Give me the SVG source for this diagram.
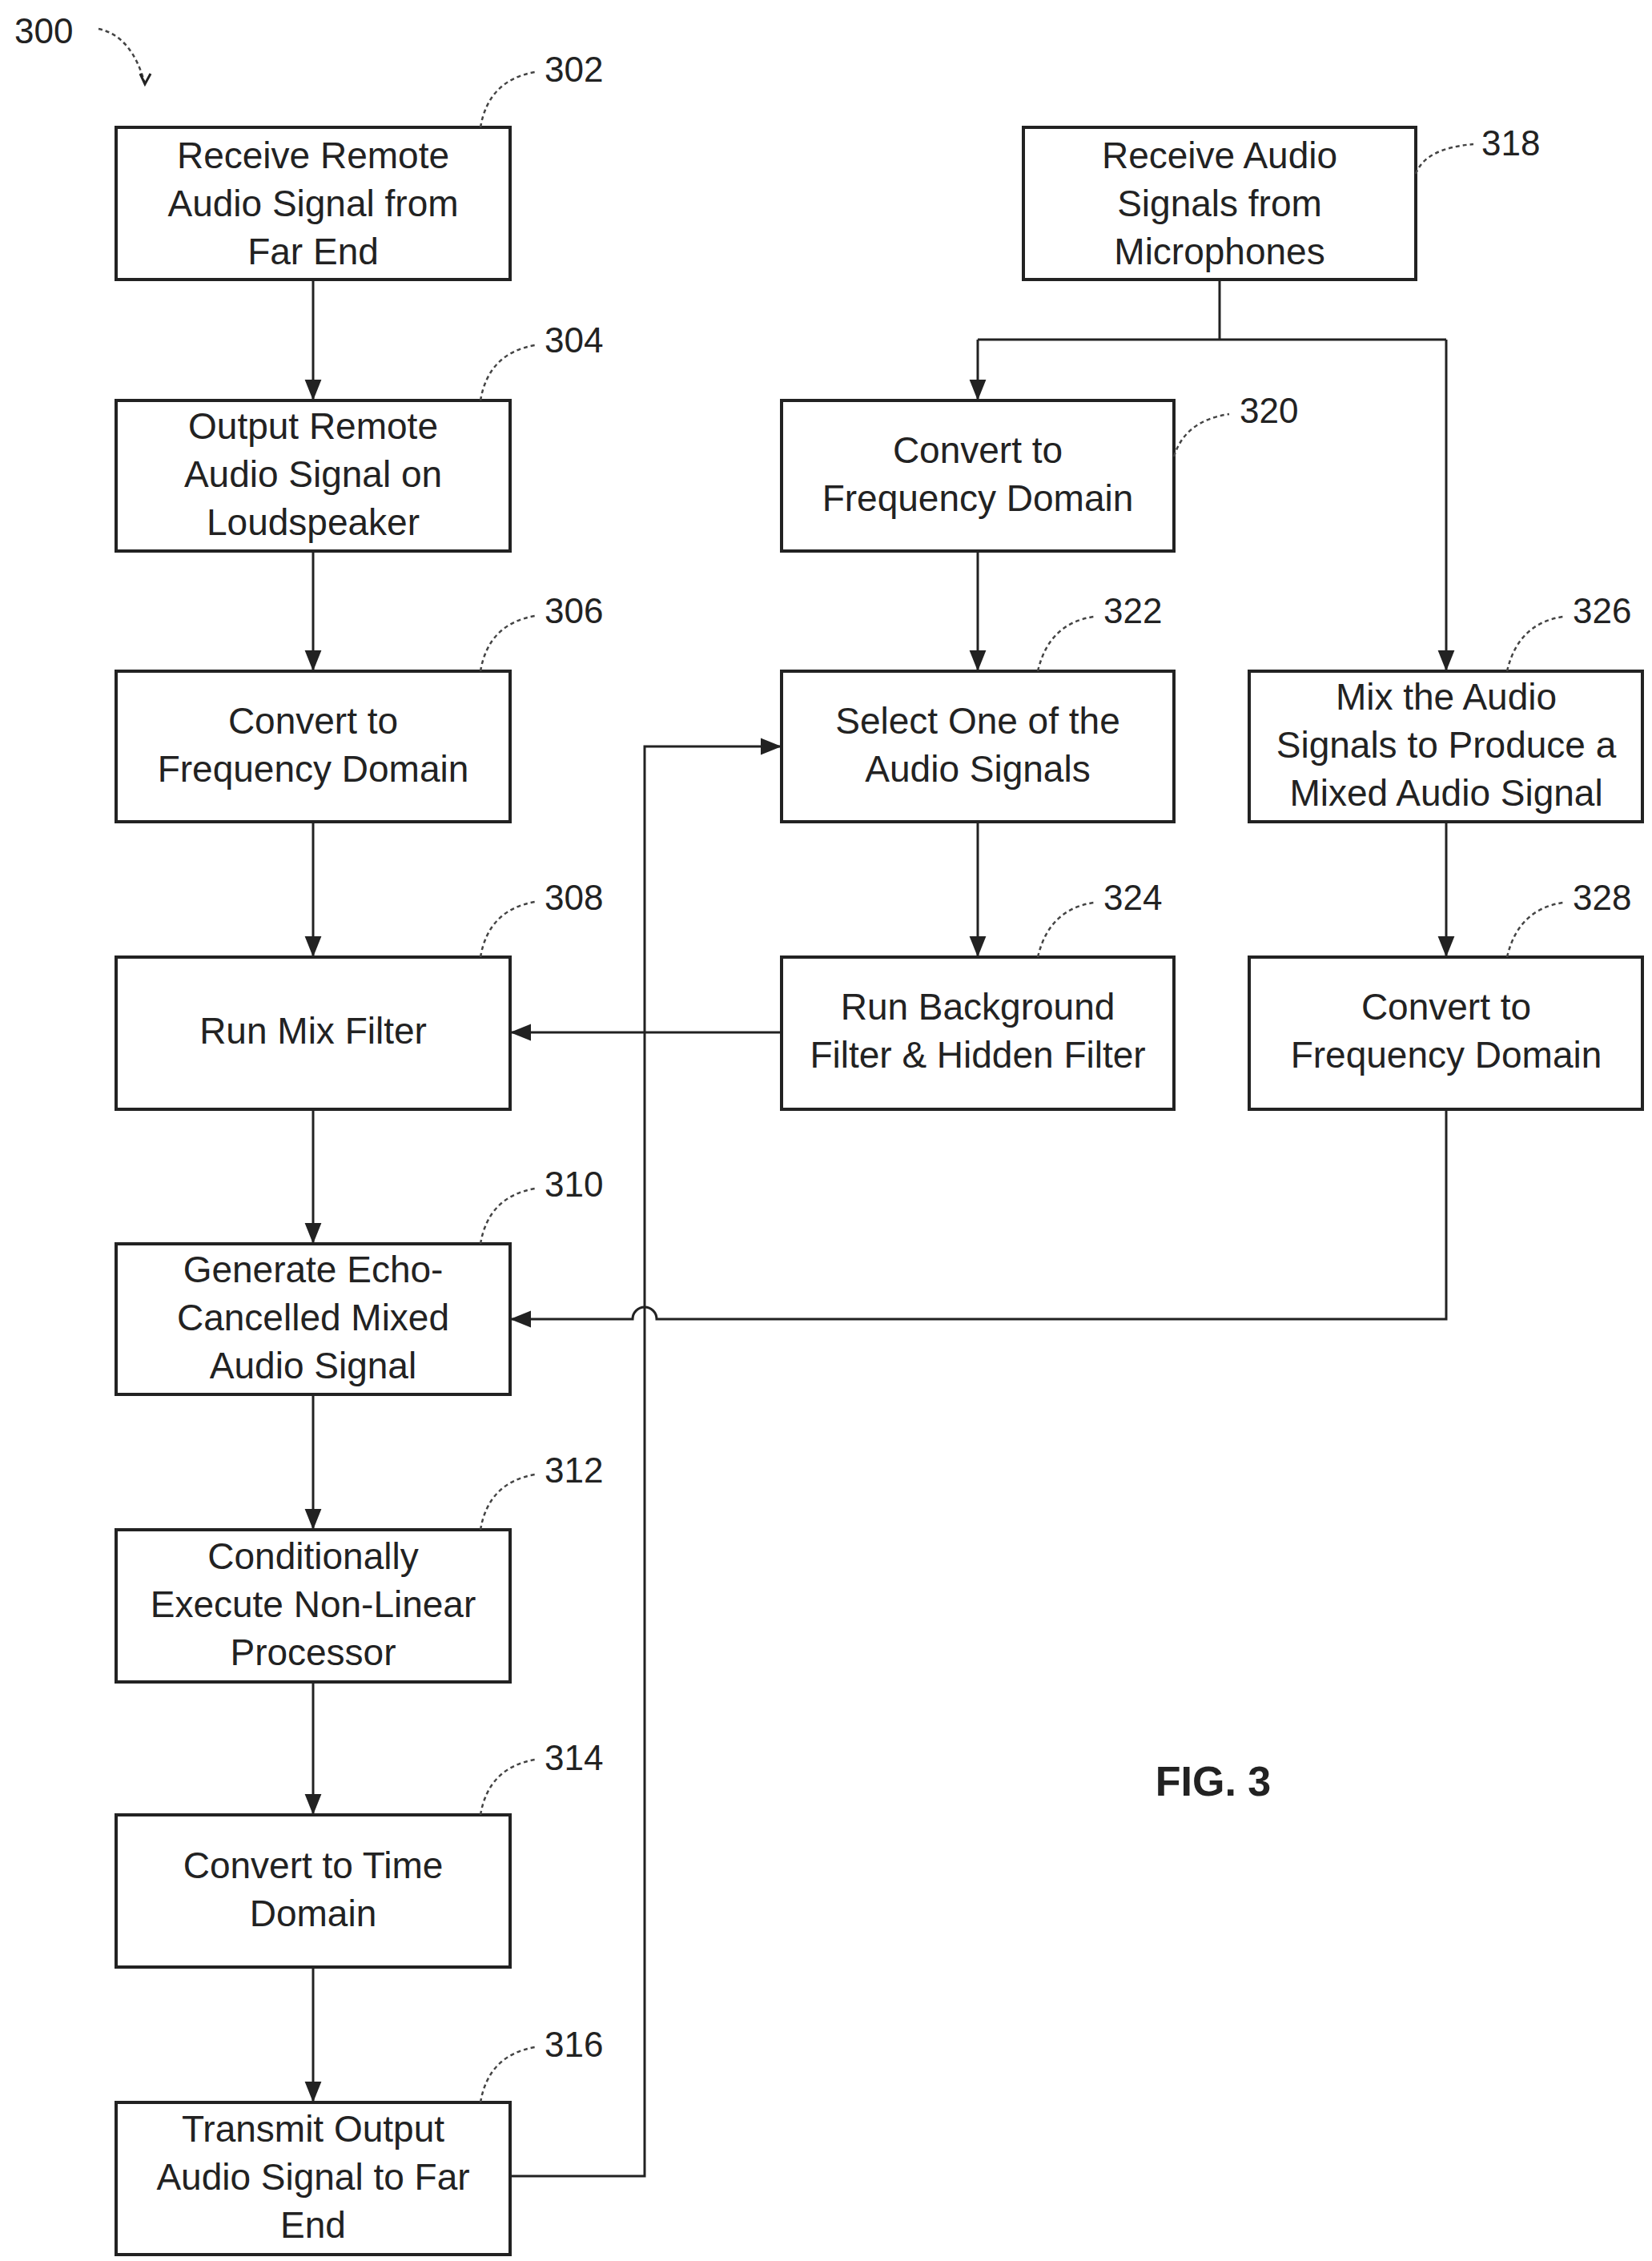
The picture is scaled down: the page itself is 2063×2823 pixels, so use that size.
<svg xmlns="http://www.w3.org/2000/svg" width="2063" height="2823" viewBox="0 0 2063 2823">
<style>
.b{fill:#fff;stroke:#222;stroke-width:4}
.t{font-family:"Liberation Sans",Arial,sans-serif;font-size:46px;fill:#222;text-anchor:middle}
.n{font-family:"Liberation Sans",Arial,sans-serif;font-size:44px;fill:#222}
.c{fill:none;stroke:#222;stroke-width:3}
.l{fill:none;stroke:#444;stroke-width:2.5;stroke-dasharray:5 4}
</style>
<defs><marker id="a" viewBox="0 0 10 10" refX="10" refY="5" markerWidth="9" markerHeight="9" markerUnits="userSpaceOnUse" orient="auto"><path d="M0,0L10,5L0,10z" fill="#222"/></marker>
<marker id="A" viewBox="0 0 10 10" refX="10" refY="5" markerWidth="30" markerHeight="26" markerUnits="userSpaceOnUse" orient="auto"><path d="M0,1L10,5L0,9z" fill="#222"/></marker></defs>
<g id="connectors">
<path class="c" marker-end="url(#A)" d="M391,349V500"/>
<path class="c" marker-end="url(#A)" d="M391,688V838"/>
<path class="c" marker-end="url(#A)" d="M391,1026V1195"/>
<path class="c" marker-end="url(#A)" d="M391,1385V1553"/>
<path class="c" marker-end="url(#A)" d="M391,1741V1910"/>
<path class="c" marker-end="url(#A)" d="M391,2100V2266"/>
<path class="c" marker-end="url(#A)" d="M391,2456V2625"/>
<path class="c" d="M1523,349V424M1221,424H1806"/>
<path class="c" marker-end="url(#A)" d="M1221,424V500"/>
<path class="c" marker-end="url(#A)" d="M1806,424V838"/>
<path class="c" marker-end="url(#A)" d="M1221,688V838"/>
<path class="c" marker-end="url(#A)" d="M1221,1026V1195"/>
<path class="c" marker-end="url(#A)" d="M1806,1026V1195"/>
<path class="c" marker-end="url(#A)" d="M976,1289H637"/>
<path class="c" marker-end="url(#A)" d="M1806,1385V1647H820A15,15 0 0 0 790,1647H637"/>
<path class="c" marker-end="url(#A)" d="M637,2717H805V932H976"/>
<path class="l" d="M123,36Q165,45 181,105"/>
<path class="c" d="M175,92L181,105L188,92" stroke-width="2.5"/>
</g>
<g id="n302"><rect class="b" x="145" y="159" width="492" height="190"/><text class="t" x="391" y="210">Receive Remote</text><text class="t" x="391" y="270">Audio Signal from</text><text class="t" x="391" y="330">Far End</text></g>
<g id="n304"><rect class="b" x="145" y="500" width="492" height="188"/><text class="t" x="391" y="548">Output Remote</text><text class="t" x="391" y="608">Audio Signal on</text><text class="t" x="391" y="668">Loudspeaker</text></g>
<g id="n306"><rect class="b" x="145" y="838" width="492" height="188"/><text class="t" x="391" y="916">Convert to</text><text class="t" x="391" y="976">Frequency Domain</text></g>
<g id="n308"><rect class="b" x="145" y="1195" width="492" height="190"/><text class="t" x="391" y="1303">Run Mix Filter</text></g>
<g id="n310"><rect class="b" x="145" y="1553" width="492" height="188"/><text class="t" x="391" y="1601">Generate Echo-</text><text class="t" x="391" y="1661">Cancelled Mixed</text><text class="t" x="391" y="1721">Audio Signal</text></g>
<g id="n312"><rect class="b" x="145" y="1910" width="492" height="190"/><text class="t" x="391" y="1959">Conditionally</text><text class="t" x="391" y="2019">Execute Non-Linear</text><text class="t" x="391" y="2079">Processor</text></g>
<g id="n314"><rect class="b" x="145" y="2266" width="492" height="190"/><text class="t" x="391" y="2345">Convert to Time</text><text class="t" x="391" y="2405">Domain</text></g>
<g id="n316"><rect class="b" x="145" y="2625" width="492" height="190"/><text class="t" x="391" y="2674">Transmit Output</text><text class="t" x="391" y="2734">Audio Signal to Far</text><text class="t" x="391" y="2794">End</text></g>
<g id="n318"><rect class="b" x="1278" y="159" width="490" height="190"/><text class="t" x="1523" y="210">Receive Audio</text><text class="t" x="1523" y="270">Signals from</text><text class="t" x="1523" y="330">Microphones</text></g>
<g id="n320"><rect class="b" x="976" y="500" width="490" height="188"/><text class="t" x="1221" y="578">Convert to</text><text class="t" x="1221" y="638">Frequency Domain</text></g>
<g id="n322"><rect class="b" x="976" y="838" width="490" height="188"/><text class="t" x="1221" y="916">Select One of the</text><text class="t" x="1221" y="976">Audio Signals</text></g>
<g id="n324"><rect class="b" x="976" y="1195" width="490" height="190"/><text class="t" x="1221" y="1273">Run Background</text><text class="t" x="1221" y="1333">Filter &amp; Hidden Filter</text></g>
<g id="n326"><rect class="b" x="1560" y="838" width="491" height="188"/><text class="t" x="1806" y="886">Mix the Audio</text><text class="t" x="1806" y="946">Signals to Produce a</text><text class="t" x="1806" y="1006">Mixed Audio Signal</text></g>
<g id="n328"><rect class="b" x="1560" y="1195" width="491" height="190"/><text class="t" x="1806" y="1273">Convert to</text><text class="t" x="1806" y="1333">Frequency Domain</text></g>
<g id="labels">
<text class="n" x="18" y="54">300</text>
<path class="l" d="M600,159Q610,100 668,90"/><text class="n" x="680" y="102">302</text>
<path class="l" d="M600,500Q610,441 668,431"/><text class="n" x="680" y="440">304</text>
<path class="l" d="M600,838Q610,779 668,769"/><text class="n" x="680" y="778">306</text>
<path class="l" d="M600,1195Q610,1136 668,1126"/><text class="n" x="680" y="1136">308</text>
<path class="l" d="M600,1553Q610,1494 668,1484"/><text class="n" x="680" y="1494">310</text>
<path class="l" d="M600,1910Q610,1851 668,1841"/><text class="n" x="680" y="1851">312</text>
<path class="l" d="M600,2266Q610,2207 668,2197"/><text class="n" x="680" y="2210">314</text>
<path class="l" d="M600,2625Q610,2566 668,2556"/><text class="n" x="680" y="2568">316</text>
<path class="l" d="M1768,217Q1780,185 1840,180"/><text class="n" x="1850" y="194">318</text>
<path class="l" d="M1466,570Q1480,525 1535,517"/><text class="n" x="1548" y="528">320</text>
<path class="l" d="M1296,838Q1310,778 1366,770"/><text class="n" x="1378" y="778">322</text>
<path class="l" d="M1296,1195Q1310,1135 1366,1127"/><text class="n" x="1378" y="1136">324</text>
<path class="l" d="M1882,838Q1896,778 1952,770"/><text class="n" x="1964" y="778">326</text>
<path class="l" d="M1882,1195Q1896,1135 1952,1127"/><text class="n" x="1964" y="1136">328</text>
<text x="1515" y="2242" style="font-family:'Liberation Sans',Arial,sans-serif;font-size:52px;font-weight:bold;fill:#222;text-anchor:middle">FIG. 3</text>
</g>
</svg>
